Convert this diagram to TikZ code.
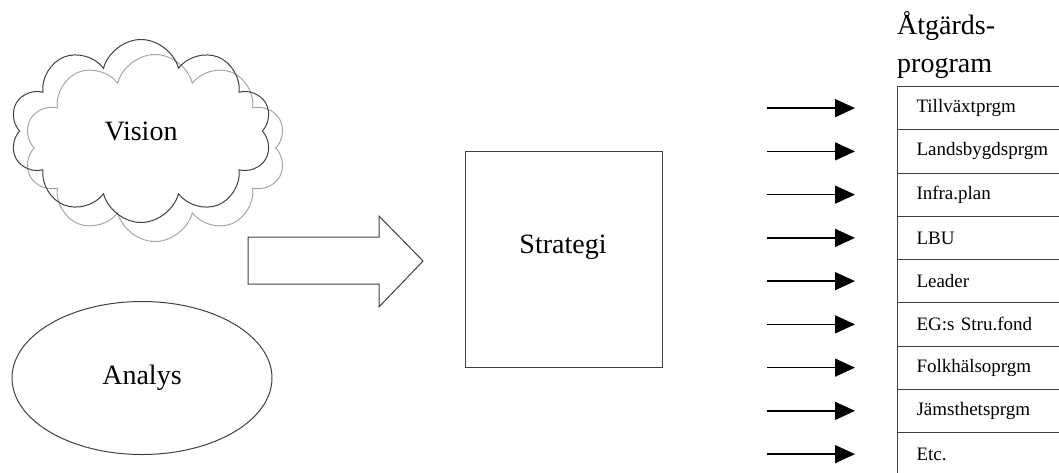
\documentclass[tikz,border=0pt]{standalone}
\usepackage{fontspec}
\setmainfont{Liberation Serif}
\usetikzlibrary{positioning,calc,shapes.symbols,shapes.geometric,arrows.meta}

\begin{document}
\begin{tikzpicture}[x=1pt,y=-1pt,
  line/.style={draw=black!75,line width=1pt},
  bigtext/.style={font=\fontsize{28}{34}\selectfont},
  puffy/.style={cloud,cloud puffs=10,cloud puff arc=150,cloud ignores aspect},
  rowbox/.style={line,rectangle,anchor=north west,minimum height=43.25pt,
    text width=180pt,inner xsep=19pt,align=left,font=\fontsize{19}{21}\selectfont},
  feed/.style={draw=black,line width=1.5pt,-{Triangle[length=20pt,width=18pt]}},
  ]
  \clip (0,0) rectangle (1059,472);
  \node[puffy,minimum width=262pt,minimum height=187pt,
    draw=black!35,line width=1pt] (vision-shadow) at (155,148) {};
  \node[puffy,minimum width=262pt,minimum height=183pt,
    line,bigtext] (vision) at (141,131) {Vision};
  \node[ellipse,line,minimum width=260pt,minimum height=153pt,bigtext] (analys) at (142,378) {Analys};
  \path[line] (248,237) coordinate (push)
    -- ++(131,0) -- ++(0,-21) -- ++(44,45) coordinate (push-tip)
    -- ++(-44,46) -- ++(0,-23) -- ++(-131,0) -- cycle;
  \node[line,minimum width=197pt,minimum height=216pt] (strategi) at (563.5,259) {};
  \node[bigtext] (strategi-label) at (563,247) {Strategi};
  \node[anchor=south west,inner sep=0pt,align=left,font=\fontsize{28}{38}\selectfont]
    (heading) at (897,79) {Åtgärds-\\program};
  \foreach \prog [count=\i from 0] in {Tillväxtprgm,Landsbygdsprgm,Infra.plan,LBU,Leader,
    EG:s Stru.fond,Folkhälsoprgm,Jämsthetsprgm,Etc.}{
    \node[rowbox] (prog-\i) at (897,86+43.25*\i) {\prog};
    \coordinate[left=130pt of prog-\i.west] (feed-\i);
    \coordinate[left=42pt of prog-\i.west] (tip-\i);
    \draw[feed] (feed-\i) -- (tip-\i);
  }
\end{tikzpicture}
\end{document}
